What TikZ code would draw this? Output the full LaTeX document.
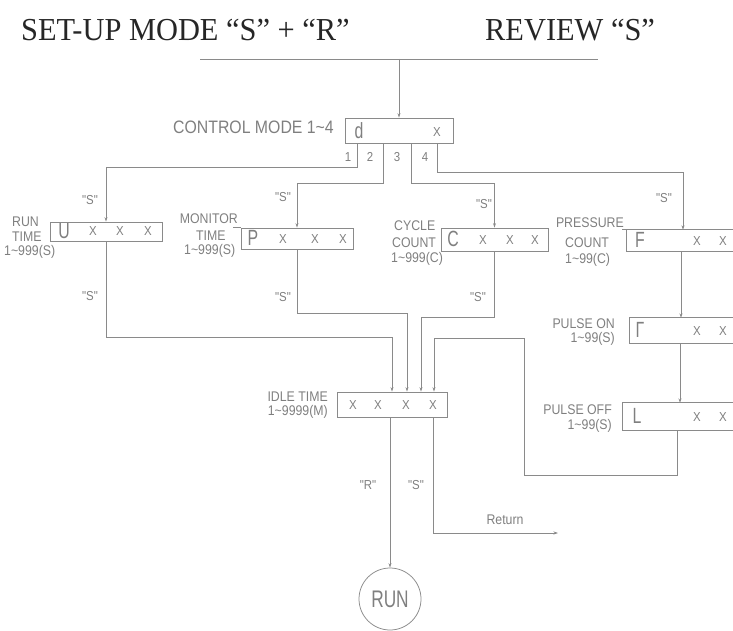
\documentclass[tikz,border=0pt]{standalone}
\usepackage{fontspec}
\setmainfont{Liberation Serif}
\newfontfamily\titf[FakeStretch=0.95]{Liberation Serif}
\newfontfamily\lblf[FakeStretch=0.88]{Liberation Sans}
\newfontfamily\segf[FakeStretch=0.72]{Liberation Sans}
\usetikzlibrary{arrows.meta}
\definecolor{ink}{HTML}{8A8A8A}
\definecolor{tink}{HTML}{7F7F7F}
\tikzset{
 ln/.style={draw=ink, line width=0.75pt},
 arr/.style={ln, -{Stealth[length=4.5pt,width=3pt]}},
 boxst/.style={draw=ink, line width=0.75pt, inner sep=0pt},
 openbox/.style={inner sep=0pt},
 title/.style={inner sep=0pt, text=black!85, font=\titf\fontsize{32}{32}\selectfont},
 lbl/.style={inner sep=0pt, text=tink, font=\lblf\fontsize{14}{14}\selectfont},
 big/.style={inner sep=0pt, text=tink, font=\lblf\fontsize{18}{18}\selectfont},
 seg/.style={inner sep=0pt, text=tink, font=\segf\fontsize{22}{22}\selectfont},
 xs/.style={inner sep=0pt, text=tink, font=\lblf\fontsize{13}{13}\selectfont},
}
\begin{document}
\begin{tikzpicture}[x=1pt,y=-1pt]
\useasboundingbox (0,0) rectangle (733,631);
\coordinate (edge) at (733,0);
% titles
\node[title, anchor=base west] (t1) at (21,41) {SET-UP MODE “S” + “R”};
\node[title, anchor=base west] (t2) at (485,41) {REVIEW “S”};
\coordinate (tl) at (200,59);
\coordinate (tr) at (598,59);
\draw[ln] (tl) -- (tr);
% control mode box
\node[boxst, minimum width=108pt, minimum height=25pt] (ctrl) at (399,130.5) {};
\draw[arr] (ctrl.north |- tl) -- (ctrl.north);
\node[big, anchor=east] (ctrll) at (334,127) {CONTROL MODE 1\textasciitilde 4};
\node[seg] (ctrld) at (359,131) {d};
\node[xs] (ctrlx) at (437,132) {X};
\node[xs] (n1) at (348,157) {1};
\node[xs] (n2) at (370,157) {2};
\node[xs] (n3) at (397,157) {3};
\node[xs] (n4) at (425,157) {4};
% RUN TIME box
\node[boxst, minimum width=112pt, minimum height=19pt] (U) at (106,231.5) {};
\node[seg] (Ul) at (64,231) {U};
\node[xs] (Ux1) at (93,231) {X};
\node[xs] (Ux2) at (120,231) {X};
\node[xs] (Ux3) at (148,231) {X};
\node[lbl, anchor=west] (runa) at (12,222) {RUN};
\node[lbl, anchor=west] (runb) at (12,237) {TIME};
\node[lbl, anchor=west] (runc) at (4,252) {1\textasciitilde 999(S)};
\node[xs] (s1) at (90,200) {"S"};
\node[xs] (s1b) at (90,296) {"S"};
% MONITOR TIME box
\node[boxst, minimum width=112pt, minimum height=21pt] (P) at (297,238.5) {};
\node[seg] (Pl) at (253,238) {P};
\node[xs] (Px1) at (283,239) {X};
\node[xs] (Px2) at (315,239) {X};
\node[xs] (Px3) at (343,239) {X};
\node[lbl, anchor=east] (mona) at (238,219) {MONITOR};
\draw[ln] (P.north west) -- ++(-8,0);
\node[lbl, anchor=west] (monb) at (196,236) {TIME};
\node[lbl, anchor=west] (monc) at (184,251) {1\textasciitilde 999(S)};
\node[xs] (s2) at (283,197) {"S"};
\node[xs] (s2b) at (283,297) {"S"};
% CYCLE COUNT box
\node[boxst, minimum width=107pt, minimum height=23pt] (C) at (494.5,239.5) {};
\node[seg] (Cl) at (453,239) {C};
\node[xs] (Cx1) at (483,240) {X};
\node[xs] (Cx2) at (510,240) {X};
\node[xs] (Cx3) at (535,240) {X};
\node[lbl, anchor=west] (cyca) at (394,226) {CYCLE};
\node[lbl, anchor=west] (cycb) at (392,243) {COUNT};
\node[lbl, anchor=west] (cycc) at (391,259) {1\textasciitilde 999(C)};
\node[xs] (s3) at (484,204) {"S"};
\node[xs] (s3b) at (478,297) {"S"};
% PRESSURE COUNT box (cut by the page edge)
\node[openbox, minimum width=112pt, minimum height=21pt] (F) at (683,240.5) {};
\draw[ln] (edge |- F.north) -- (F.north west) -- (F.south west) -- (edge |- F.south);
\draw[ln] (F.north west) -- ++(-5,0);
\node[seg] (Fl) at (640,240) {F};
\node[xs] (Fx1) at (697,241) {X};
\node[xs] (Fx2) at (723,241) {X};
\node[lbl, anchor=east] (pra) at (624,223) {PRESSURE};
\node[lbl, anchor=west] (prb) at (565,243) {COUNT};
\node[lbl, anchor=west] (prc) at (565,260) {1\textasciitilde 99(C)};
\node[xs] (s4) at (664,198) {"S"};
% PULSE ON box
\node[openbox, minimum width=102pt, minimum height=25pt] (G) at (681,330.5) {};
\draw[ln] (edge |- G.north) -- (G.north west) -- (G.south west) -- (edge |- G.south);
\node[seg] (Gl) at (640,330) {Γ};
\node[xs] (Gx1) at (697,331) {X};
\node[xs] (Gx2) at (723,331) {X};
\node[lbl, anchor=east] (poa) at (615,324) {PULSE ON};
\node[lbl, anchor=east] (pob) at (615,339) {1\textasciitilde 99(S)};
% PULSE OFF box
\node[openbox, minimum width=114pt, minimum height=27pt] (L) at (680,416.5) {};
\draw[ln] (edge |- L.north) -- (L.north west) -- (L.south west) -- (edge |- L.south);
\node[seg] (Ll) at (637,416) {L};
\node[xs] (Lx1) at (697,417) {X};
\node[xs] (Lx2) at (723,417) {X};
\node[lbl, anchor=east] (pfa) at (612,410) {PULSE OFF};
\node[lbl, anchor=east] (pfb) at (612,426) {1\textasciitilde 99(S)};
% IDLE TIME box
\node[boxst, minimum width=110pt, minimum height=25pt] (IDLE) at (392,404.5) {};
\node[xs] (Ix1) at (353,405) {X};
\node[xs] (Ix2) at (378,405) {X};
\node[xs] (Ix3) at (406,405) {X};
\node[xs] (Ix4) at (433,405) {X};
\node[lbl, anchor=east] (ida) at (328,397) {IDLE TIME};
\node[lbl, anchor=east] (idb) at (328,412) {1\textasciitilde 9999(M)};
% RUN circle
\node[circle, draw=ink, line width=0.75pt, minimum size=62pt, inner sep=0pt, text=tink, font=\segf\fontsize{24}{24}\selectfont] (run) at (390,599) {RUN};
\node[xs] (rr) at (368,485) {"R"};
\node[xs] (rs) at (416,485) {"S"};
\node[lbl] (retl) at (505,520) {Return};
% connectors from control mode
\coordinate (k1) at (357,167);
\coordinate (k2) at (383,183);
\coordinate (k3) at (411,183);
\coordinate (k4) at (437,172);
\draw[arr] (ctrl.south -| k1) -- (k1) -| (U.north);
\draw[arr] (ctrl.south -| k2) -- (k2) -| (P.north);
\draw[arr] (ctrl.south -| k3) -- (k3) -| (C.north);
\draw[arr] (ctrl.south -| k4) -- (k4) -| (F.north);
% right chain
\draw[arr] (F.south -| G.north) -- (G.north);
\draw[arr] (G.south -| L.north) -- (L.north);
% into idle time
\coordinate (a1) at (392,337);
\coordinate (a2) at (407,313);
\coordinate (a3) at (421,317);
\coordinate (a4) at (434,338);
\coordinate (r1) at (677,475);
\coordinate (r2) at (524,338);
\draw[arr] (U.south) |- (a1) -- (IDLE.north -| a1);
\draw[arr] (P.south) |- (a2) -- (IDLE.north -| a2);
\draw[arr] (C.south) |- (a3) -- (IDLE.north -| a3);
\draw[arr] (L.south -| r1) -- (r1) -| (r2) -- (a4) -- (IDLE.north -| a4);
% out of idle time
\coordinate (b4) at (433,0);
\coordinate (ret) at (558,533);
\draw[arr] (IDLE.south -| run.north) -- (run.north);
\draw[arr] (IDLE.south -| b4) |- (ret);
\end{tikzpicture}
\end{document}
